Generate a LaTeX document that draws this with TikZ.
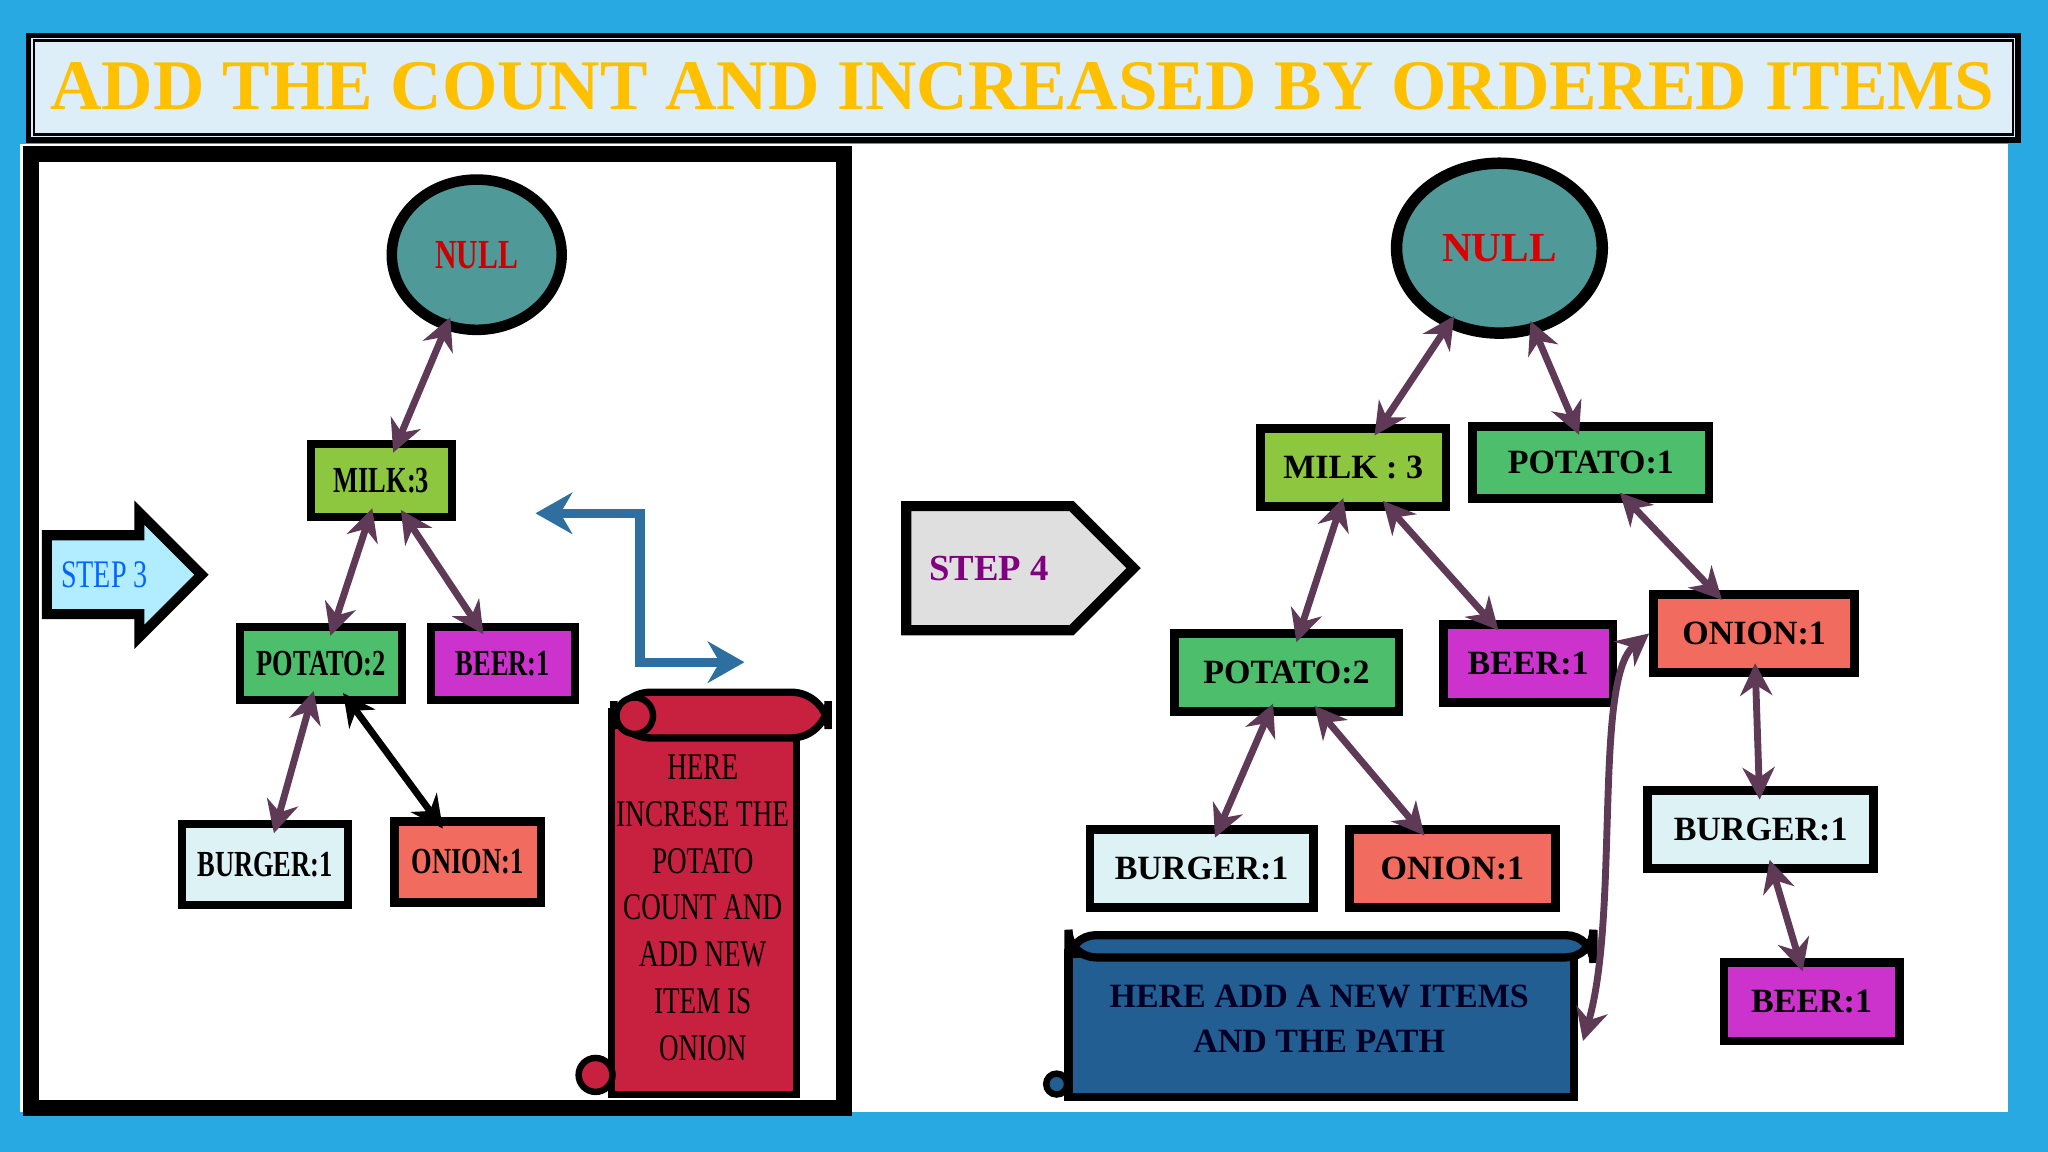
\documentclass[tikz,border=0pt]{standalone}
\usepackage{fontspec}
\setmainfont{Liberation Serif}
\usetikzlibrary{arrows.meta,shapes.geometric,shapes.arrows}
\definecolor{bgblue}{HTML}{29A9E1}
\definecolor{titlefill}{HTML}{DDEEF8}
\definecolor{gold}{HTML}{FFC000}
\definecolor{teal}{HTML}{4F9A98}
\definecolor{lime}{HTML}{8DC63F}
\definecolor{grn}{HTML}{4CBE6C}
\definecolor{mag}{HTML}{CC33CC}
\definecolor{pale}{HTML}{DDF2F4}
\definecolor{salmon}{HTML}{F26B5F}
\definecolor{purp}{HTML}{5E3A57}
\definecolor{scrollred}{HTML}{C8203F}
\definecolor{scrollblue}{HTML}{225E92}
\definecolor{elbow}{HTML}{2E6FA0}
\tikzset{
 lbox/.style={draw=black,line width=1.8pt,minimum height=0.56cm,inner sep=0pt,font=\bfseries\fontsize{8}{9}\selectfont},
 rbox/.style={draw=black,line width=1.9pt,minimum height=0.58cm,inner sep=0pt,font=\bfseries\fontsize{7.4}{9}\selectfont},
 dbl/.style={purp,line width=1.5pt,{Stealth[length=7pt,width=7pt]}-{Stealth[length=7pt,width=7pt]},shorten <=-3pt,shorten >=-3pt},
}
\newcommand{\cond}[1]{\scalebox{0.72}[1]{#1}}
\begin{document}
\begin{tikzpicture}[x=0.01cm,y=-0.01cm]
\useasboundingbox (0,0) rectangle (1568,882);
\fill[bgblue] (0,0) rectangle (1568,882);
\fill[white] (15,110) rectangle (1537,851);
% title
\draw[line width=1.2pt,fill=titlefill] (22,27) rectangle (1545,107);
\draw[line width=0.5pt] (26,31) rectangle (1541,103);
\node[text=gold,font=\bfseries\fontsize{15.5}{18}\selectfont,anchor=west,inner sep=0pt] (title) at (38,66) {\scalebox{1.0}[1]{ADD THE COUNT AND INCREASED BY ORDERED ITEMS}};
% left panel
\draw[line width=3.5pt] (24,118) rectangle (646,848);
% step 3
\node[single arrow,draw=black,line width=2.2pt,fill=blue!25!cyan!30,minimum height=1.12cm,minimum width=0.95cm,single arrow head extend=0.12cm,inner sep=2pt,anchor=tail] (s3) at (32,440) {\textcolor{blue!60!cyan}{\fontsize{8.5}{10}\selectfont\cond{STEP 3}}\hspace{0.2cm}};
% left nodes
\node[ellipse,draw=black,line width=2.3pt,fill=teal,minimum width=1.3cm,minimum height=1.15cm] (ln) at (365,195) {\textcolor{red!80!black}{\bfseries\fontsize{9}{10}\selectfont\cond{NULL}}};
\node[lbox,fill=lime,minimum width=1.08cm] (lmilk) at (292,368) {\cond{MILK:3}};
\node[lbox,fill=grn,minimum width=1.24cm] (lpot) at (246,508) {\cond{POTATO:2}};
\node[lbox,fill=mag,minimum width=1.1cm] (lbeer) at (385,508) {\cond{BEER:1}};
\node[lbox,fill=pale,minimum width=1.27cm,minimum height=0.62cm] (lburg) at (203,662) {\cond{BURGER:1}};
\node[lbox,fill=salmon,minimum width=1.12cm,minimum height=0.62cm] (lonion) at (358,660) {\cond{ONION:1}};
\draw[dbl] (lmilk) -- (ln);
\draw[dbl] (lpot) -- (lmilk);
\draw[dbl] (lbeer) -- (lmilk);
\draw[dbl] (lburg) -- (lpot);
\draw[dbl,black] (lonion) -- (lpot);
% elbow arrow
\coordinate (e1) at (410,393);
\coordinate (e2) at (570,507);
\draw[elbow,line width=2pt,{Stealth[length=8pt,width=9pt]}-{Stealth[length=8pt,width=9pt]}] (e1) -- (490,393) -- (490,507) -- (e2);
% red scroll
\draw[line width=1.6pt,fill=scrollred] (468,545) rectangle (610,838);
\draw[line width=1.6pt,fill=scrollred,rounded corners=8pt] (470,530) rectangle (634,565);
\draw[line width=1.4pt,fill=scrollred] (486,548) circle (14);
\draw[line width=1.4pt,fill=scrollred] (456,823) circle (13);
\node[align=center,font=\fontsize{8.2}{10.2}\selectfont] (rtext) at (538,695) {\cond{HERE}\\\cond{INCRESE THE}\\\cond{POTATO}\\\cond{COUNT AND}\\\cond{ADD NEW}\\\cond{ITEM IS}\\\cond{ONION}};
% step 4
\node[single arrow,draw=black,line width=2.2pt,fill=gray!25,minimum height=1.74cm,minimum width=0.95cm,single arrow head extend=0.0cm,inner sep=2pt,anchor=tail] (s4) at (690,435) {\textcolor{violet}{\bfseries\fontsize{8}{10}\selectfont STEP 4}\hspace{0.35cm}};
% right nodes
\node[ellipse,draw=black,line width=2.5pt,fill=teal,minimum width=1.56cm,minimum height=1.3cm] (rn) at (1148,190) {\textcolor{red!85!black}{\bfseries\fontsize{9}{11}\selectfont NULL}};
\node[rbox,fill=lime,minimum width=1.42cm,minimum height=0.6cm] (rmilk) at (1036,358) {MILK : 3};
\node[rbox,fill=grn,minimum width=1.81cm,minimum height=0.55cm] (rpot1) at (1218,354) {POTATO:1};
\node[rbox,fill=grn,minimum width=1.72cm,minimum height=0.6cm] (rpot2) at (985,515) {POTATO:2};
\node[rbox,fill=mag,minimum width=1.3cm,minimum height=0.6cm] (rbeer) at (1170,508) {BEER:1};
\node[rbox,fill=salmon,minimum width=1.54cm,minimum height=0.6cm] (ronion) at (1343,485) {ONION:1};
\node[rbox,fill=pale,minimum width=1.71cm,minimum height=0.6cm] (rburg) at (920,665) {BURGER:1};
\node[rbox,fill=salmon,minimum width=1.58cm,minimum height=0.6cm] (ronion2) at (1112,665) {ONION:1};
\node[rbox,fill=pale,minimum width=1.73cm,minimum height=0.6cm] (rburg2) at (1348,635) {BURGER:1};
\node[rbox,fill=mag,minimum width=1.34cm,minimum height=0.6cm] (rbeer2) at (1387,767) {BEER:1};
\draw[dbl] (rmilk) -- (rn);
\draw[dbl] (rpot1) -- (rn);
\draw[dbl] (rpot2) -- (rmilk);
\draw[dbl] (rbeer) -- (rmilk);
\draw[dbl] (ronion) -- (rpot1);
\draw[dbl] (rburg) -- (rpot2);
\draw[dbl] (ronion2) -- (rpot2);
\draw[dbl] (rburg2) -- (ronion);
\draw[dbl] (rbeer2) -- (rburg2);
% blue scroll
\draw[line width=1.8pt,fill=scrollblue] (818,730) rectangle (1205,840);
\draw[line width=1.8pt,fill=scrollblue,rounded corners=6pt] (818,716) rectangle (1220,733);
\draw[line width=1.4pt,fill=scrollblue] (809,830) circle (8);
\node[align=center,text=black!85!blue,font=\bfseries\fontsize{7.4}{10}\selectfont] (btext) at (1010,780) {HERE ADD A NEW ITEMS\\AND THE PATH};
\coordinate (c1) at (1212,797);
\draw[dbl,shorten <=0pt,shorten >=0pt] (c1) .. controls (1240,700) and (1220,520) .. (ronion.west);
\end{tikzpicture}
\end{document}
